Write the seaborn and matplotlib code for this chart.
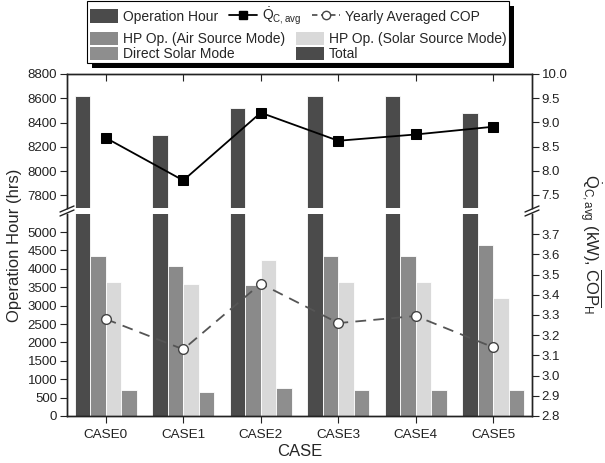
import numpy as np
import pandas as pd
import matplotlib.pyplot as plt
import seaborn as sns
from matplotlib.patches import Patch, Rectangle
from matplotlib.lines import Line2D

sns.set_style('ticks')
plt.rcParams['font.family'] = ['Liberation Sans', 'DejaVu Sans']
plt.rcParams['mathtext.fontset'] = 'custom'
plt.rcParams['mathtext.rm'] = 'Liberation Sans'
plt.rcParams['mathtext.it'] = 'Liberation Sans'
plt.rcParams['mathtext.bf'] = 'Liberation Sans:bold'
plt.rcParams['axes.linewidth'] = 1.0
plt.rcParams['axes.edgecolor'] = '#222222'
plt.rcParams['xtick.color'] = '#222222'
plt.rcParams['ytick.color'] = '#222222'

# data
cases = ['CASE0', 'CASE1', 'CASE2', 'CASE3', 'CASE4', 'CASE5']
total_hours = [8620, 8300, 8520, 8620, 8620, 8480]
air_hours = [4340, 4090, 3560, 4340, 4340, 4640]
solar_hours = [3640, 3600, 4240, 3640, 3640, 3200]
direct_hours = [705, 645, 750, 705, 705, 705]
q_avg = [8.68, 7.80, 9.20, 8.62, 8.75, 8.91]
cop_avg = [3.28, 3.13, 3.455, 3.26, 3.295, 3.14]

modes = ['Total', 'HP Op. (Air Source Mode)', 'HP Op. (Solar Source Mode)', 'Direct Solar Mode']
colors = ['#4b4b4b', '#8a8a8a', '#d9d9d9', '#8e8e8e']

df = pd.DataFrame({
    'CASE': cases * 4,
    'hours': total_hours + air_hours + solar_hours + direct_hours,
    'mode': np.repeat(modes, len(cases)),
})

W, H = 605, 463
fig = plt.figure(figsize=(W / 100, H / 100), dpi=100)


def fx(px):
    return px / W


def fy(py):
    return 1 - py / H


x0, x1 = 67, 532
top_y0, top_y1 = 74, 208
bot_y0, bot_y1 = 214, 416
ax_top = fig.add_axes([fx(x0), fy(top_y1), (x1 - x0) / W, (top_y1 - top_y0) / H])
ax_bot = fig.add_axes([fx(x0), fy(bot_y1), (x1 - x0) / W, (bot_y1 - bot_y0) / H])

for ax in (ax_top, ax_bot):
    sns.barplot(data=df, x='CASE', y='hours', hue='mode', hue_order=modes, order=cases,
                palette=colors, errorbar=None, edgecolor='white', linewidth=0.6,
                legend=False, ax=ax)
    ax.set_xlabel('')
    ax.set_ylabel('')

ax_top.set_ylim(7697, 8800)
ax_top.set_yticks(np.arange(7800, 8801, 200))
ax_bot.set_ylim(0, 5490)
ax_bot.set_yticks(np.arange(0, 5001, 500))

r_top = ax_top.twinx()
r_bot = ax_bot.twinx()
xpos = np.arange(len(cases))
sns.lineplot(x=xpos, y=q_avg, ax=r_top, color='black', marker='s', markersize=7,
             markeredgecolor='black', linewidth=1.3)
sns.lineplot(x=xpos, y=cop_avg, ax=r_bot, color='#555555', linestyle=(0, (6, 4)),
             marker='o', markersize=7, markerfacecolor='white', markeredgecolor='#444444',
             markeredgewidth=1.0, linewidth=1.3)
r_top.set_ylim(7.23, 10.0)
r_top.set_yticks(np.arange(7.5, 10.01, 0.5))
r_top.set_yticklabels([f'{v:.1f}' for v in np.arange(7.5, 10.01, 0.5)])
r_bot.set_ylim(2.8, 3.8)
r_bot.set_yticks(np.arange(2.8, 3.71, 0.1))
r_bot.set_yticklabels([f'{v:.1f}' for v in np.arange(2.8, 3.71, 0.1)])

for ax in (ax_top, ax_bot, r_top, r_bot):
    ax.set_xlim(-0.5, 5.5)
    ax.set_ylabel('')

# spines
for ax in (ax_top, r_top):
    ax.spines['bottom'].set_visible(False)
for ax in (ax_bot, r_bot):
    ax.spines['top'].set_visible(False)

ax_top.tick_params(axis='x', bottom=False, labelbottom=False, top=True, direction='in', length=5)
ax_bot.tick_params(axis='x', bottom=True, top=False, direction='out', length=5, labelsize=9.7, pad=4)
for ax in (ax_top, ax_bot):
    ax.tick_params(axis='y', direction='out', length=5, labelsize=9.5, pad=2)
for ax in (r_top, r_bot):
    ax.tick_params(axis='y', direction='out', length=5, labelsize=9.5, pad=2)
    ax.tick_params(axis='x', bottom=False, top=False)

# break marks
for xs in (x0, x1):
    for yb in (top_y1 + 1, bot_y0 - 1):
        fig.add_artist(Line2D([fx(xs - 7), fx(xs + 7)], [fy(yb + 3), fy(yb - 3)],
                              color='#222222', lw=1.0))

# axis labels
fig.text(fx(15), fy(245), 'Operation Hour (hrs)', rotation=90, ha='center', va='center', fontsize=12)
fig.text(fx(590), fy(244), r'$\dot{Q}_{C,avg}$ (kW), $\overline{COP}_H$', rotation=270,
         ha='center', va='center', fontsize=12)
fig.text(fx((x0 + x1) / 2), fy(452), 'CASE', ha='center', va='center', fontsize=12)

# legend box with shadow
fig.add_artist(Rectangle((fx(92), fy(68)), (509 - 87) / W, (63 - 1) / H,
                         transform=fig.transFigure, facecolor='black', edgecolor='none', zorder=5))
fig.add_artist(Rectangle((fx(87), fy(63)), (509 - 87) / W, (63 - 1) / H,
                         transform=fig.transFigure, facecolor='white', edgecolor='black',
                         lw=0.8, zorder=6))

h_op = Patch(facecolor=colors[0], edgecolor='none')
h_q = Line2D([], [], color='black', marker='s', markersize=6, lw=1.3)
h_cop = Line2D([], [], color='#555555', ls=(0, (3, 2)), marker='o', markersize=6,
               markerfacecolor='white', markeredgecolor='#444444', lw=1.3)
leg1 = fig.legend([h_op, h_q, h_cop], ['Operation Hour', r'$\dot{Q}_{C,avg}$', 'Yearly Averaged COP'],
                  loc='upper left', bbox_to_anchor=(fx(90), fy(6)), ncol=3, frameon=False,
                  fontsize=10, borderpad=0, borderaxespad=0, handlelength=2.0,
                  handleheight=1.1, handletextpad=0.35, columnspacing=0.8)
leg1.set_zorder(7)
h_air = Patch(facecolor=colors[1], edgecolor='none')
h_solar = Patch(facecolor=colors[2], edgecolor='none')
h_direct = Patch(facecolor=colors[3], edgecolor='none')
h_total = Patch(facecolor=colors[0], edgecolor='none')
leg2 = fig.legend([h_air, h_direct, h_solar, h_total],
                  ['HP Op. (Air Source Mode)', 'Direct Solar Mode', 'HP Op. (Solar Source Mode)', 'Total'],
                  loc='upper left', bbox_to_anchor=(fx(90), fy(32)), ncol=2, frameon=False,
                  fontsize=10, borderpad=0, borderaxespad=0, handlelength=2.0,
                  handleheight=1.1, handletextpad=0.35, columnspacing=0.8, labelspacing=0.05)
leg2.set_zorder(7)

fig.savefig('out.png', dpi=100)
